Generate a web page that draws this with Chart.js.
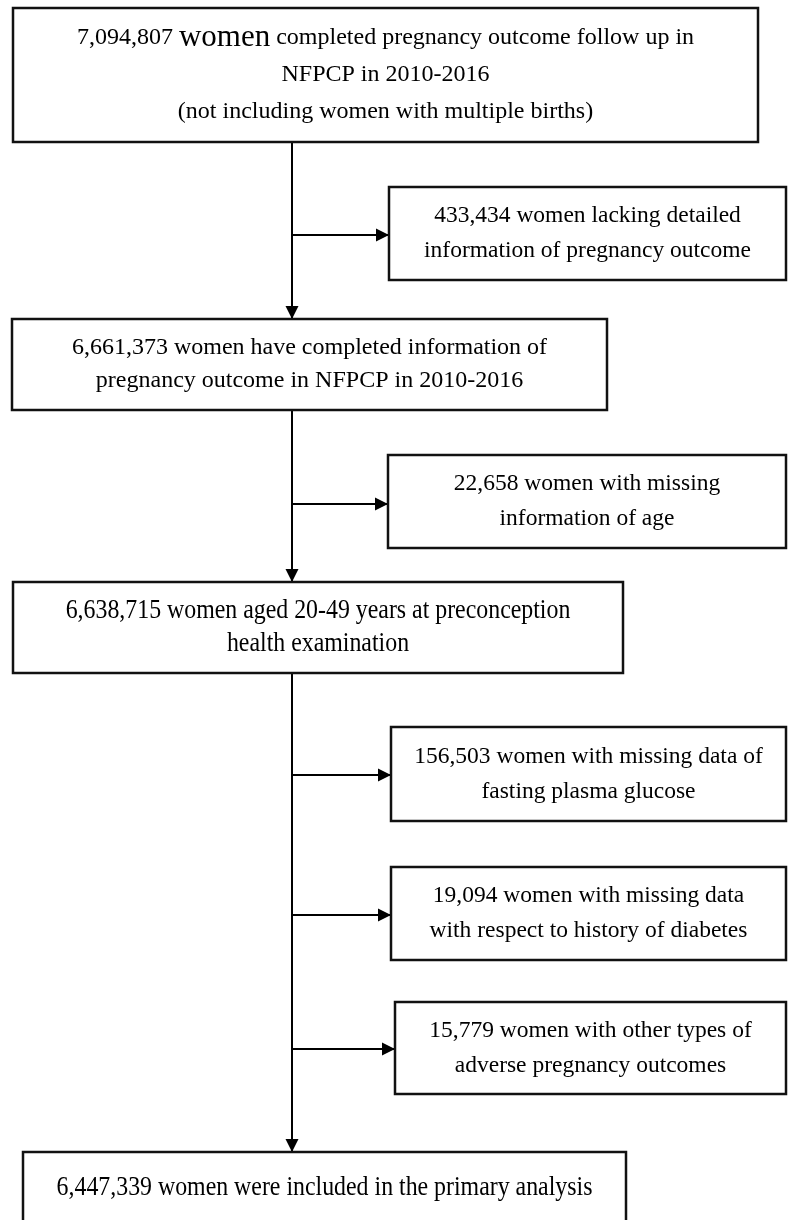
<!DOCTYPE html>
<html>
<head>
<meta charset="utf-8">
<script src="https://cdn.jsdelivr.net/npm/chart.js@4.4.1/dist/chart.umd.min.js"></script>
<style>
  html, body { margin: 0; padding: 0; background: #fff; }
  #wrap { width: 789px; height: 1220px; }
</style>
</head>
<body>
<div id="wrap"><canvas id="flow" width="789" height="1220"></canvas></div>
<script>
// --- flow data ---
const mainCounts = ['7,094,807', '6,661,373', '6,638,715', '6,447,339'];
const mainLines = [
  ['women completed pregnancy outcome follow up in', 'NFPCP in 2010-2016', '(not including women with multiple births)'],
  ['women have completed information of', 'pregnancy outcome in NFPCP in 2010-2016'],
  ['women aged 20-49 years at preconception', 'health examination'],
  ['women were included in the primary analysis']
];
const excludedCounts = ['433,434', '22,658', '156,503', '19,094', '15,779'];
const excludedLines = [
  ['women lacking detailed', 'information of pregnancy outcome'],
  ['women with missing', 'information of age'],
  ['women with missing data of', 'fasting plasma glucose'],
  ['women with missing data', 'with respect to history of diabetes'],
  ['women with other types of', 'adverse pregnancy outcomes']
];

// --- layout (chart units = px on a 789 x 1220 grid) ---
const mainBoxes = [[13, 8, 758, 142], [12, 319, 607, 410], [13, 582, 623, 673], [23, 1152, 626, 1224]];
const sideBoxes = [[389, 187, 786, 280], [388, 455, 786, 548], [391, 727, 786, 821], [391, 867, 786, 960], [395, 1002, 786, 1094]];
const branchY = [235, 504, 775, 915, 1049];
const trunkX = 292;
const mainStyle = [
  { size: 24, big: 31, gap: 37, sx: 1 },
  { size: 24, gap: 33, sx: 1 },
  { size: 26.5, gap: 33, sx: 0.9 },
  { size: 26.5, gap: 33, sx: 0.9 }
];
const sideStyle = { size: 23.5, gap: 35, sx: 1 };

const FONT = '"Liberation Serif", "Times New Roman", serif';

function connector(points) {
  return {
    type: 'scatter',
    data: points.map(p => ({ x: p[0], y: p[1] })),
    showLine: true,
    borderColor: '#000',
    borderWidth: 2,
    pointRadius: 0,
    fill: false
  };
}

const datasets = [];
for (let i = 0; i < mainBoxes.length - 1; i++) {
  datasets.push(connector([[trunkX, mainBoxes[i][3]], [trunkX, mainBoxes[i + 1][1]]]));
}
sideBoxes.forEach((b, k) => {
  datasets.push(connector([[trunkX, branchY[k]], [b[0], branchY[k]]]));
});

function drawLines(ctx, lines, cx, cy, st, bigWord) {
  const n = lines.length;
  ctx.fillStyle = '#000';
  ctx.textBaseline = 'middle';
  lines.forEach((line, j) => {
    const y = cy + (j - (n - 1) / 2) * st.gap;
    ctx.save();
    ctx.translate(cx, y);
    ctx.scale(st.sx, 1);
    if (bigWord && j === 0 && line.indexOf(' ' + bigWord + ' ') > 0) {
      const idx = line.indexOf(' ' + bigWord + ' ');
      const parts = [line.slice(0, idx + 1), bigWord, line.slice(idx + 1 + bigWord.length)];
      const fonts = [st.size + 'px ' + FONT, st.big + 'px ' + FONT, st.size + 'px ' + FONT];
      const widths = parts.map((p, q) => { ctx.font = fonts[q]; return ctx.measureText(p).width; });
      let x = -(widths[0] + widths[1] + widths[2]) / 2;
      ctx.textAlign = 'left';
      parts.forEach((p, q) => { ctx.font = fonts[q]; ctx.fillText(p, x, 0); x += widths[q]; });
    } else {
      ctx.font = st.size + 'px ' + FONT;
      ctx.textAlign = 'center';
      ctx.fillText(line, 0, 0);
    }
    ctx.restore();
  });
}

const flowPlugin = {
  id: 'flowBoxes',
  afterDatasetsDraw(chart) {
    const { ctx, scales: { x, y } } = chart;
    ctx.save();
    // arrowheads at the end of each connector
    chart.data.datasets.forEach((ds, i) => {
      const pts = chart.getDatasetMeta(i).data;
      const a = pts[pts.length - 2], b = pts[pts.length - 1];
      const ang = Math.atan2(b.y - a.y, b.x - a.x);
      const len = 13, half = 6.5;
      ctx.beginPath();
      ctx.moveTo(b.x, b.y);
      ctx.lineTo(b.x - len * Math.cos(ang) + half * Math.sin(ang), b.y - len * Math.sin(ang) - half * Math.cos(ang));
      ctx.lineTo(b.x - len * Math.cos(ang) - half * Math.sin(ang), b.y - len * Math.sin(ang) + half * Math.cos(ang));
      ctx.closePath();
      ctx.fillStyle = '#000';
      ctx.fill();
    });
    // boxes
    ctx.strokeStyle = '#111';
    ctx.lineWidth = 2.5;
    const box = (b) => {
      const x0 = x.getPixelForValue(b[0]), x1 = x.getPixelForValue(b[2]);
      const y0 = y.getPixelForValue(b[1]), y1 = y.getPixelForValue(b[3]);
      ctx.fillStyle = '#fff';
      ctx.fillRect(x0, y0, x1 - x0, y1 - y0);
      ctx.strokeRect(x0, y0, x1 - x0, y1 - y0);
      return { cx: (x0 + x1) / 2, cy: (y0 + y1) / 2 };
    };
    mainBoxes.forEach((b, i) => {
      const c = box(b);
      const lines = mainLines[i].slice();
      lines[0] = mainCounts[i] + ' ' + lines[0];
      drawLines(ctx, lines, c.cx, c.cy, mainStyle[i], i === 0 ? 'women' : null);
    });
    sideBoxes.forEach((b, k) => {
      const c = box(b);
      const lines = excludedLines[k].slice();
      lines[0] = excludedCounts[k] + ' ' + lines[0];
      drawLines(ctx, lines, c.cx, c.cy, sideStyle, null);
    });
    ctx.restore();
  }
};

new Chart(document.getElementById('flow'), {
  type: 'scatter',
  data: { datasets },
  options: {
    responsive: false,
    animation: false,
    layout: { padding: 0 },
    plugins: { legend: { display: false }, tooltip: { enabled: false } },
    scales: {
      x: { type: 'linear', min: 0, max: 789, display: false },
      y: { type: 'linear', min: 0, max: 1220, reverse: true, display: false }
    }
  },
  plugins: [flowPlugin]
});
</script>
</body>
</html>
